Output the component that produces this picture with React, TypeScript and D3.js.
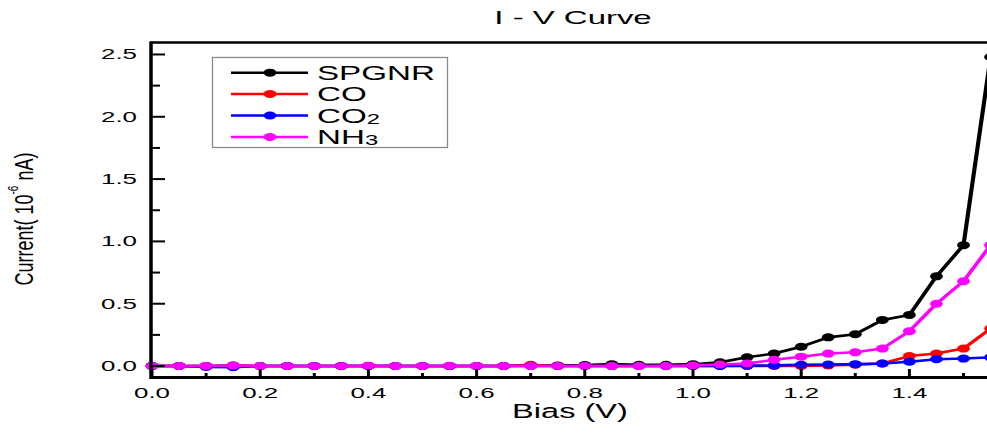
import React from "react";
import * as d3 from "d3";

const bias = [0, 0.05, 0.1, 0.15, 0.2, 0.25, 0.3, 0.35, 0.4, 0.45, 0.5, 0.55, 0.6, 0.65, 0.7, 0.75, 0.8, 0.85, 0.9, 0.95, 1.0, 1.05, 1.1, 1.15, 1.2, 1.25, 1.3, 1.35, 1.4, 1.45, 1.5, 1.55];
const spgnr = [0, 0, 0, 0.005, 0, 0, 0, 0, 0, 0, 0, 0, 0, 0, 0.005, 0.005, 0.008, 0.015, 0.01, 0.01, 0.015, 0.03, 0.07, 0.1, 0.155, 0.23, 0.255, 0.37, 0.41, 0.72, 0.97, 2.48];
const co = [0, 0, 0, 0, 0, 0, 0, 0, 0, 0, 0, 0, 0, 0, 0.01, 0, 0, 0, 0, 0, 0, 0, 0, 0, 0, 0.005, 0.01, 0.02, 0.08, 0.1, 0.14, 0.3];
const co2 = [0, 0, -0.008, -0.01, 0, 0, 0, 0, 0, 0, 0, 0, 0, 0, 0, 0, 0, 0, 0, 0, 0, 0, 0.003, 0.005, 0.01, 0.012, 0.015, 0.02, 0.035, 0.055, 0.06, 0.07];
const nh3 = [0, 0, 0, 0.005, 0, 0, 0, 0, 0.003, 0, 0, 0.002, 0, 0, 0, 0, 0, 0, 0, 0, 0.005, 0.012, 0.02, 0.05, 0.075, 0.1, 0.11, 0.14, 0.28, 0.5, 0.68, 0.97];

const seriesNames = ["SPGNR", "CO", "CO2", "NH3"];
const seriesColors = ["#000000", "#ff0000", "#0000ff", "#ff00ff"];
const seriesValues = [spgnr, co, co2, nh3];

const yMajor = [0, 0.5, 1.0, 1.5, 2.0, 2.5];
const yMinor = [0.25, 0.75, 1.25, 1.75, 2.25];
const xMajor = [0, 0.2, 0.4, 0.6, 0.8, 1.0, 1.2, 1.4];
const xMinor = [0.1, 0.3, 0.5, 0.7, 0.9, 1.1, 1.3, 1.5];

const FONT = "'Liberation Sans', Arial, sans-serif";
const SX = 1.6;

export default function App() {
  const x = d3.scaleLinear().domain([0, 1.6]).range([152, 152 + 1.6 * 541]);
  const y = d3.scaleLinear().domain([-0.1, 2.6]).range([378.5, 42]);
  const line = d3
    .line<[number, number]>()
    .x((d) => x(d[0]) / SX)
    .y((d) => y(d[1]));

  const legendRows = [72.7, 94, 115.5, 137];

  const label = (name: string) => {
    if (name === "CO2")
      return (
        <>
          CO<tspan fontSize={14} dy={1}>2</tspan>
        </>
      );
    if (name === "NH3")
      return (
        <>
          NH<tspan fontSize={14} dy={1}>3</tspan>
        </>
      );
    return name;
  };

  return (
    <div style={{ position: "absolute", left: 0, top: 0 }}>
      <svg width={987} height={434} style={{ display: "block", background: "#fff" }} fontFamily={FONT}>
        <rect x={0} y={0} width={987} height={434} fill="#fff" />
        {/* title */}
        <text transform="translate(573,24) scale(1.83,1)" textAnchor="middle" fontSize={18}>
          I - V Curve
        </text>

        {/* series */}
        <g transform={`scale(${SX},1)`}>
          {seriesValues.map((vals, i) => {
            const pts = bias.map((b, j) => [b, vals[j]] as [number, number]);
            return (
              <g key={i}>
                <path d={line(pts) || ""} fill="none" stroke={seriesColors[i]} strokeWidth={2.6} strokeLinejoin="round" />
                {pts.map((p, j) => (
                  <circle key={j} cx={x(p[0]) / SX} cy={y(p[1])} r={4} fill={seriesColors[i]} />
                ))}
              </g>
            );
          })}
        </g>

        {/* frame */}
        <line x1={150} x2={990} y1={42.5} y2={42.5} stroke="#000" strokeWidth={2.5} />
        <line x1={150} x2={990} y1={377.5} y2={377.5} stroke="#000" strokeWidth={3} />
        <line x1={151} x2={151} y1={41.5} y2={379} stroke="#000" strokeWidth={3.5} />

        {/* y ticks */}
        {yMajor.map((v) => (
          <g key={"ym" + v}>
            <line x1={152} x2={165} y1={y(v)} y2={y(v)} stroke="#000" strokeWidth={2} />
            <text transform={`translate(137,${y(v) + 4.8}) scale(1.85,1)`} textAnchor="end" fontSize={14}>
              {v.toFixed(1)}
            </text>
          </g>
        ))}
        {yMinor.map((v) => (
          <line key={"yn" + v} x1={152} x2={160} y1={y(v)} y2={y(v)} stroke="#000" strokeWidth={2} />
        ))}

        {/* x ticks */}
        {xMajor.map((v) => (
          <g key={"xm" + v}>
            <line x1={x(v)} x2={x(v)} y1={377} y2={369} stroke="#000" strokeWidth={3} />
            <text transform={`translate(${x(v)},397.5) scale(1.85,1)`} textAnchor="middle" fontSize={14}>
              {v.toFixed(1)}
            </text>
          </g>
        ))}
        {xMinor.map((v) => (
          <line key={"xn" + v} x1={x(v)} x2={x(v)} y1={377} y2={373} stroke="#000" strokeWidth={3} />
        ))}

        {/* axis titles */}
        <text transform="translate(570,418) scale(1.67,1)" textAnchor="middle" fontSize={19.5}>
          Bias (V)
        </text>
        <text transform="translate(33,219) scale(1.4,1) rotate(-90)" textAnchor="middle" fontSize={18}>
          Current( 10<tspan fontSize={10} dy={-11}>-6</tspan>
          <tspan dy={11}> nA)</tspan>
        </text>

        {/* legend */}
        <rect x={212.5} y={57.5} width={235} height={90} fill="#fff" stroke="#8a8a8a" strokeWidth={1.3} />
        {seriesNames.map((name, i) => (
          <g key={name}>
            <g transform={`scale(${SX},1)`}>
              <line x1={231 / SX} x2={308 / SX} y1={legendRows[i]} y2={legendRows[i]} stroke={seriesColors[i]} strokeWidth={2.6} />
              <circle cx={270 / SX} cy={legendRows[i]} r={4} fill={seriesColors[i]} />
            </g>
            <text transform={`translate(317,${legendRows[i] + 7}) scale(1.7,1)`} fontSize={19.5}>
              {label(name)}
            </text>
          </g>
        ))}
      </svg>
    </div>
  );
}
